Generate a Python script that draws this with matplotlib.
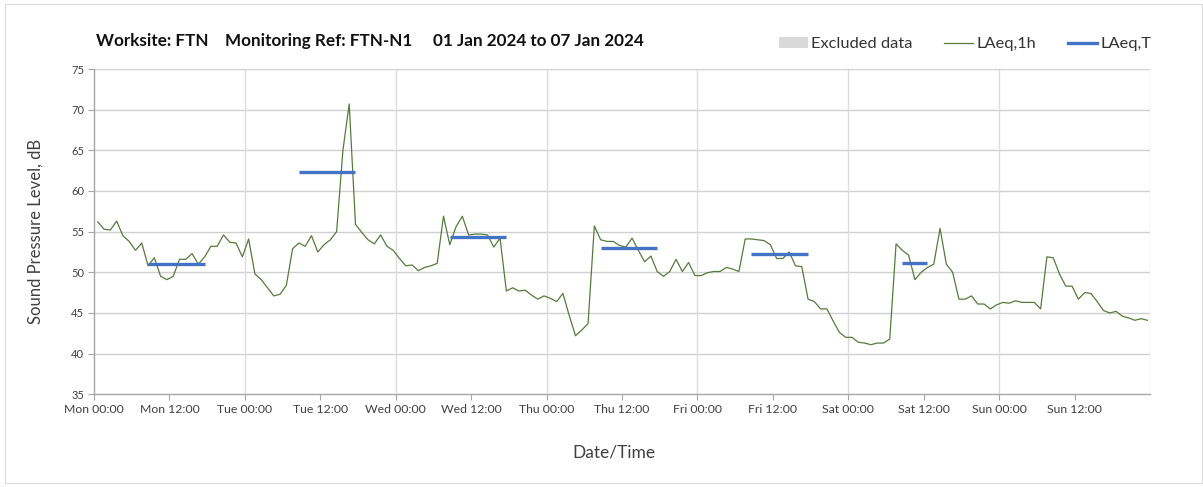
import matplotlib
matplotlib.use("Agg")
import matplotlib.pyplot as plt
from matplotlib.patches import Patch, Rectangle
from matplotlib.lines import Line2D

plt.rcParams['font.family'] = ['Lato', 'DejaVu Sans']

# Hourly LAeq,1h values (dB), Mon 00:00 .. Sun 23:00
laeq_1h = [
    56.2, 55.3, 55.2, 56.3, 54.5, 53.8, 52.7, 53.6, 50.8, 51.8, 49.5, 49.1,
    49.5, 51.6, 51.6, 52.3, 51.0, 51.9, 53.2, 53.2, 54.6, 53.7, 53.6, 51.9,
    54.1, 49.8, 49.1, 48.1, 47.1, 47.3, 48.4, 52.9, 53.6, 53.2, 54.5, 52.5,
    53.4, 54.0, 55.0, 65.0, 70.7, 55.9, 54.9, 54.0, 53.5, 54.6, 53.2, 52.7,
    51.7, 50.8, 50.9, 50.2, 50.6, 50.8, 51.1, 56.9, 53.4, 55.6, 56.9, 54.6,
    54.7, 54.7, 54.6, 53.1, 54.2, 47.7, 48.1, 47.7, 47.8, 47.2, 46.7, 47.1,
    46.8, 46.4, 47.4, 44.7, 42.2, 42.9, 43.7, 55.7, 54.0, 53.8, 53.8, 53.3,
    53.1, 54.2, 52.7, 51.3, 52.0, 50.1, 49.5, 50.1, 51.6, 50.1, 51.2, 49.6,
    49.6, 49.95, 50.1, 50.1, 50.6, 50.4, 50.1, 54.1, 54.1, 54.0, 53.9, 53.4,
    51.7, 51.7, 52.5, 50.8, 50.7, 46.7, 46.4, 45.5, 45.5, 44.0, 42.6, 42.0,
    42.0, 41.4, 41.3, 41.1, 41.3, 41.3, 41.8, 53.5, 52.7, 52.1, 49.1, 50.0,
    50.6, 51.0, 55.4, 51.0, 50.0, 46.7, 46.7, 47.1, 46.1, 46.1, 45.5, 46.0,
    46.3, 46.2, 46.5, 46.3, 46.3, 46.3, 45.5, 51.9, 51.8, 49.8, 48.3, 48.3,
    46.7, 47.5, 47.4, 46.4, 45.3, 45.0, 45.2, 44.6, 44.4, 44.1, 44.3, 44.1,
]

# LAeq,T daytime values: (start hour index, end hour index, level dB)
laeqT_start = [8, 32, 56, 80, 104, 128]
laeqT_end = [17, 41, 65, 89, 113, 132]
laeqT_level = [51.0, 62.3, 54.4, 53.0, 52.3, 51.2]

tick_labels = ["Mon 00:00", "Mon 12:00", "Tue 00:00", "Tue 12:00", "Wed 00:00",
               "Wed 12:00", "Thu 00:00", "Thu 12:00", "Fri 00:00", "Fri 12:00",
               "Sat 00:00", "Sat 12:00", "Sun 00:00", "Sun 12:00"]

OFFSET = 0.6  # plotting offset of hourly points (hours)

fig = plt.figure(figsize=(12.03, 4.87), dpi=100)
ax = fig.add_axes([94/1203, (487-394.3)/487, (1150-94)/1203, (394.3-69)/487])

green = '#567a3e'
blue = '#4472c4'
grid_c = '#d0d0d0'
axis_c = '#a6a6a6'

x = [OFFSET + i for i in range(len(laeq_1h))]
ax.plot(x, laeq_1h, color=green, lw=0.9, zorder=3)

for s, e, v in zip(laeqT_start, laeqT_end, laeqT_level):
    ax.plot([s + OFFSET, e + OFFSET], [v, v], color=blue, lw=2.4,
            solid_capstyle='butt', zorder=4)

ax.set_xlim(0, 168)
ax.set_ylim(35, 75)
ax.set_yticks(range(35, 76, 5))
ax.set_xticks([12 * k for k in range(14)])
ax.set_xticklabels(tick_labels)

ax.grid(False)
for yv in range(40, 76, 5):
    ax.axhline(yv, color=grid_c, lw=1.0, zorder=1)
for xv in range(24, 169, 24):
    ax.axvline(xv, color='#dcdcdc', lw=1.0, zorder=1)

for sp in ['top', 'right']:
    ax.spines[sp].set_visible(False)
ax.spines['left'].set_color(axis_c)
ax.spines['bottom'].set_color(axis_c)
ax.spines['left'].set_linewidth(1.0)
ax.spines['bottom'].set_linewidth(1.0)

ax.tick_params(axis='x', which='major', direction='out', length=4, color=axis_c,
               labelsize=8.8, pad=3, labelcolor='#404040')
ax.tick_params(axis='y', direction='out', length=4, color=axis_c,
               labelsize=8, pad=3, labelcolor='#404040')

ax.set_ylabel("Sound Pressure Level, dB", fontsize=12, color='#404040')
ax.yaxis.set_label_coords(-50/1056, 0.5)
ax.set_xlabel("Date/Time", fontsize=12.5, color='#404040')
ax.xaxis.set_label_coords((614-94)/1056, -(453-394.3)/325.3)
ax.xaxis.label.set_va('center')

fig.text(96/1203, 1 - 41/487, "Worksite: FTN    Monitoring Ref: FTN-N1     01 Jan 2024 to 07 Jan 2024",
         fontsize=12.3, fontweight='bold', color='#111111', va='center', ha='left')

handles = [Patch(facecolor='#d9d9d9', edgecolor='none'),
           Line2D([0], [0], color=green, lw=0.9),
           Line2D([0], [0], color=blue, lw=2.4)]
labels = ["Excluded data", "LAeq,1h", "LAeq,T"]
fig.legend(handles, labels, loc='center right', bbox_to_anchor=(1166/1203, 1 - 44/487),
           ncol=3, frameon=False, fontsize=11.8, handlelength=1.8, handletextpad=0.2,
           columnspacing=1.9, labelcolor='#333333')

# light outer border
fig.patches.append(Rectangle((5/1203, 4/487), 1 - 6/1203, 1 - 8/487, transform=fig.transFigure,
                             fill=False, edgecolor='#d9d9d9', lw=0.8))

fig.savefig("out.png", dpi=100)
